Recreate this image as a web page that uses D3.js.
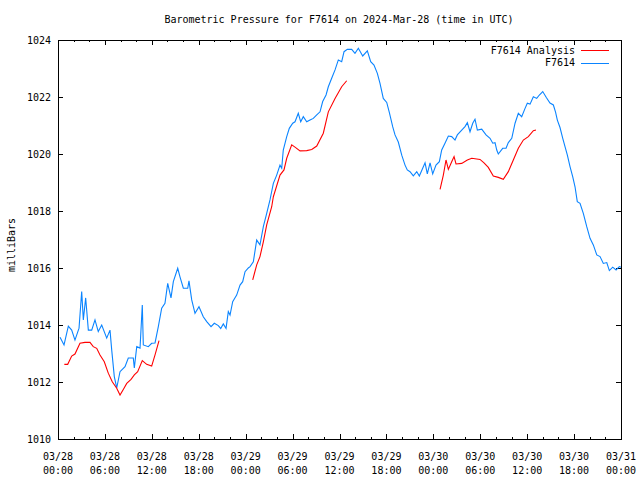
<!DOCTYPE html>
<html>
<head>
<meta charset="utf-8">
<script src="https://cdn.jsdelivr.net/npm/d3@7"></script>
<style>
  html, body { margin: 0; padding: 0; background: #fff; }
  svg { display: block; }
  text { font-family: "DejaVu Sans Mono", "Liberation Mono", monospace; font-size: 10px; fill: #000; }
</style>
</head>
<body>
<svg id="chart" width="640" height="480"></svg>
<script>
const titleText = "Barometric Pressure for F7614 on 2024-Mar-28 (time in UTC)";
const yLabel = "milliBars";
const seriesNames = ["F7614 Analysis", "F7614"];
const seriesColors = ["#ff0000", "#0a84ff"];
const startTime = "2024-03-28T00:00:00Z";
const endTime = "2024-03-31T00:00:00Z";
const yTicks = [1010, 1012, 1014, 1016, 1018, 1020, 1022, 1024];

// F7614 observations: hours since start, pressure (mb)
const obsHours = [0.26,0.77,1.32,1.75,2.17,2.69,3.03,3.24,3.54,3.88,4.31,4.73,5.15,5.59,6.23,6.65,6.87,7.20,7.51,7.93,8.57,8.99,9.63,9.76,10.07,10.49,10.78,10.91,11.55,11.98,12.41,12.83,13.26,13.68,14.03,14.45,14.75,15.31,15.60,16.03,16.59,16.75,17.10,17.52,18.03,18.58,19.02,19.57,19.99,20.50,20.81,21.14,21.49,21.78,22.00,22.34,22.85,23.28,23.62,23.92,24.34,24.56,24.98,25.41,25.83,26.26,26.69,27.11,27.54,27.97,28.39,28.61,28.81,29.25,29.58,30.02,30.31,30.73,31.04,31.37,31.81,32.23,32.65,33.09,33.51,33.85,34.28,34.57,35.00,35.43,35.85,36.28,36.58,37.00,37.56,37.98,38.41,38.97,39.56,39.99,40.41,40.84,41.18,41.60,42.04,42.37,42.81,43.10,43.52,43.96,44.38,44.67,45.02,45.44,45.88,46.21,46.64,46.94,47.23,47.58,47.92,48.34,48.77,49.07,49.49,49.92,50.35,50.77,51.07,51.63,52.05,52.35,52.69,53.04,53.33,53.63,54.19,54.74,55.25,55.60,55.89,56.11,56.31,56.87,57.30,57.59,58.03,58.45,58.87,59.30,59.73,60.02,60.37,60.79,61.22,61.56,61.99,62.45,62.92,63.35,63.63,63.86,64.20,64.55,64.84,65.14,65.48,65.83,66.12,66.41,66.76,67.18,67.62,68.04,68.46,68.90,69.32,69.74,70.18,70.51,70.94,71.37,71.79,72.00];
const obsValues = [1013.57,1013.30,1013.96,1013.82,1013.47,1013.89,1015.17,1014.18,1014.95,1013.82,1013.82,1014.18,1013.77,1014.00,1013.54,1013.82,1013.12,1012.19,1011.79,1012.36,1012.54,1012.84,1012.84,1012.49,1013.24,1013.19,1014.70,1013.30,1013.24,1013.36,1013.37,1013.94,1014.59,1014.76,1015.46,1014.95,1015.52,1015.99,1015.69,1015.29,1015.29,1015.55,1014.88,1014.41,1014.64,1014.29,1014.12,1013.94,1014.06,1013.98,1013.88,1014.04,1013.88,1014.47,1014.35,1014.82,1015.05,1015.40,1015.52,1015.87,1016.00,1016.05,1016.22,1016.98,1016.81,1017.45,1017.92,1018.39,1018.97,1019.26,1019.61,1019.50,1020.14,1020.61,1020.90,1021.08,1021.13,1021.43,1021.13,1021.31,1021.13,1021.19,1021.25,1021.37,1021.48,1021.84,1022.07,1022.36,1022.66,1022.95,1023.30,1023.24,1023.59,1023.67,1023.67,1023.53,1023.71,1023.44,1023.62,1023.24,1023.12,1022.83,1022.48,1021.95,1021.81,1021.46,1020.95,1020.67,1020.42,1019.96,1019.61,1019.44,1019.38,1019.23,1019.38,1019.23,1019.50,1019.69,1019.30,1019.69,1019.30,1019.61,1019.73,1020.14,1020.38,1020.63,1020.61,1020.49,1020.67,1020.84,1020.96,1021.10,1020.78,1021.08,1021.22,1020.84,1020.87,1020.67,1020.55,1020.38,1020.40,1020.14,1020.00,1020.20,1020.20,1020.40,1020.55,1021.08,1021.43,1021.31,1021.60,1021.78,1021.75,1022.01,1021.95,1022.07,1022.19,1021.98,1021.79,1021.72,1021.47,1021.19,1020.93,1020.55,1020.26,1019.96,1019.56,1019.20,1018.85,1018.33,1018.27,1017.92,1017.45,1017.04,1016.81,1016.46,1016.40,1016.16,1016.19,1015.91,1016.03,1015.93,1016.05,1016.03];

// F7614 Analysis: hours since start, pressure (mb); null = gap between runs
const anaHours = [0.81,1.24,1.75,2.17,2.81,3.45,4.09,4.51,4.95,5.37,5.92,6.43,6.94,7.51,7.93,8.35,8.79,9.34,9.76,10.19,10.78,11.34,11.98,12.41,12.92,18.0,
  24.90,25.41,25.83,26.26,26.69,27.33,27.54,28.39,28.90,29.25,29.89,30.31,30.95,31.81,32.45,33.09,33.93,34.57,35.43,36.28,36.92,42.0,
  48.86,49.28,49.62,49.92,50.35,50.65,50.90,51.63,52.35,52.91,53.97,54.48,55.03,55.67,56.31,56.95,57.59,58.23,58.87,59.51,60.15,60.79,61.13];
const anaValues = [1012.62,1012.62,1012.91,1012.98,1013.36,1013.39,1013.39,1013.24,1013.18,1012.95,1012.71,1012.31,1012.01,1011.78,1011.54,1011.74,1011.95,1012.09,1012.25,1012.36,1012.75,1012.62,1012.56,1012.95,1013.45,null,
  1015.58,1016.11,1016.40,1016.92,1017.51,1018.15,1018.50,1019.26,1019.44,1019.85,1020.32,1020.24,1020.11,1020.12,1020.16,1020.28,1020.73,1021.48,1021.95,1022.36,1022.57,null,
  1018.76,1019.26,1019.79,1019.46,1019.73,1019.91,1019.65,1019.67,1019.79,1019.85,1019.81,1019.69,1019.53,1019.23,1019.18,1019.11,1019.38,1019.79,1020.20,1020.49,1020.61,1020.82,1020.84];

const svg = d3.select("#chart");
const L = 58, R = 621, T = 40, B = 439;
const t0 = new Date(startTime), t1 = new Date(endTime);
const toDate = h => new Date(t0.getTime() + h * 3600000);

const x = d3.scaleUtc().domain([t0, t1]).range([L, R]);
const y = d3.scaleLinear().domain([1010, 1024]).range([B, T]);

// title
svg.append("text").attr("x", 339).attr("y", 23).attr("text-anchor", "middle").text(titleText);
// y label
svg.append("text").attr("transform", "translate(15,245) rotate(-90)").attr("text-anchor", "middle").text(yLabel);

const majorT = d3.utcHour.every(6).range(t0, new Date(t1.getTime() + 1));
const minorT = d3.utcHour.every(2).range(t0, new Date(t1.getTime() + 1));

const axes = svg.append("g").attr("stroke", "#000").attr("stroke-width", 1).attr("shape-rendering", "crispEdges");
// minor x ticks
minorT.forEach(d => {
  const xx = Math.round(x(d)) + 0.5;
  axes.append("line").attr("x1", xx).attr("x2", xx).attr("y1", B).attr("y2", B - 2);
  axes.append("line").attr("x1", xx).attr("x2", xx).attr("y1", T).attr("y2", T + 2);
});
majorT.forEach(d => {
  const xx = Math.round(x(d)) + 0.5;
  axes.append("line").attr("x1", xx).attr("x2", xx).attr("y1", B).attr("y2", B - 5);
  axes.append("line").attr("x1", xx).attr("x2", xx).attr("y1", T).attr("y2", T + 5);
});
yTicks.forEach(v => {
  const yy = Math.round(y(v)) + 0.5;
  axes.append("line").attr("x1", L).attr("x2", L + 5).attr("y1", yy).attr("y2", yy);
  axes.append("line").attr("x1", R).attr("x2", R - 5).attr("y1", yy).attr("y2", yy);
});

// y tick labels
yTicks.forEach(v => {
  svg.append("text").attr("x", 51).attr("y", y(v)).attr("dy", "0.35em").attr("text-anchor", "end").text(v);
});
// x tick labels
const fDate = d3.utcFormat("%m/%d"), fTime = d3.utcFormat("%H:%M");
majorT.forEach(d => {
  const g = svg.append("text").attr("x", x(d)).attr("text-anchor", "middle");
  g.append("tspan").attr("x", x(d)).attr("y", 460).text(fDate(d));
  g.append("tspan").attr("x", x(d)).attr("y", 474).text(fTime(d));
});

// lines
const line = d3.line()
  .defined(d => d.v !== null)
  .x(d => x(toDate(d.h)))
  .y(d => y(d.v));

const anaData = anaHours.map((h, i) => ({ h, v: anaValues[i] }));
const obsData = obsHours.map((h, i) => ({ h, v: obsValues[i] }));

svg.append("path").datum(obsData).attr("fill", "none").attr("stroke", seriesColors[1]).attr("stroke-width", 1.1).attr("d", line);
svg.append("path").datum(anaData).attr("fill", "none").attr("stroke", seriesColors[0]).attr("stroke-width", 1.1).attr("d", line);

// frame
svg.append("rect").attr("x", L + 0.5).attr("y", T + 0.5).attr("width", R - L).attr("height", B - T)
  .attr("fill", "none").attr("stroke", "#000").attr("shape-rendering", "crispEdges");

// legend
seriesNames.forEach((name, i) => {
  const ly = 50 + i * 12.5;
  svg.append("text").attr("x", 575).attr("y", ly).attr("dy", "0.35em").attr("text-anchor", "end").text(name);
  svg.append("line").attr("x1", 581).attr("x2", 609).attr("y1", ly + 0.5).attr("y2", ly + 0.5)
    .attr("stroke", seriesColors[i]).attr("stroke-width", 1).attr("shape-rendering", "crispEdges");
});
</script>
</body>
</html>
